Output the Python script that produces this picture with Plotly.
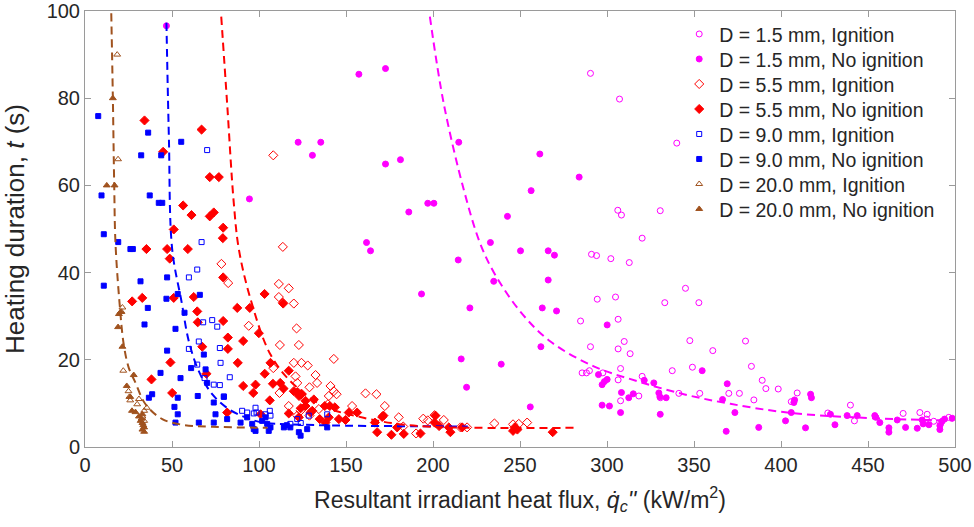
import plotly.graph_objects as go

# ---------------- data ----------------
mag_ign_x = [290.5, 307.2, 340.1, 306.2, 308.3, 330.6, 320.2, 291.1, 294, 302.2, 312.8, 345.1, 333.2, 352.8,
             294.4, 304.9, 284.8, 306.4, 309.9, 290.5, 306.4, 313.3, 347.6, 360.8, 285.7, 288.2, 289.9, 307.8,
             297.6, 306.4, 320.2, 337.5, 349.1, 307.8, 318.3, 330.7, 341.3, 353.3, 370, 376.1, 379.6, 383,
             389.2, 391.3, 398.4, 384.4, 409.3, 405.9, 426.9, 439.9, 442.2, 470.2, 479.8, 484, 483.6, 487.8,
             491.7, 496.4]
mag_ign_y = [85.7, 79.8, 69.7, 54.3, 53.2, 54.2, 47.9, 44.2, 43.9, 43.2, 42.3, 36.4, 33.1, 33.1,
             33.9, 34.4, 28.9, 29.3, 24.2, 23, 22.5, 21.4, 24.4, 22.1, 17, 17, 17.5, 18,
             17, 15.4, 16.2, 17.5, 18.3, 10.6, 11.7, 11.3, 12.3, 12.3, 12.3, 12.3, 24.3, 18.5,
             15.3, 13.4, 13.3, 10.8, 12.4, 10.4, 7.8, 9.6, 6, 7.7, 7.9, 7.5, 6.4, 5.9,
             5.3, 6.8]

mag_no_x = [46.8, 94.5, 157.4, 172.7, 122.5, 135.5, 130.7, 172.7, 181.3, 214.8, 197, 200.5, 186.1, 161.8,
            164.1, 214.5, 193.4, 221.2, 216.2, 219.3, 261.4, 284, 256.4, 242.8, 233, 250.3, 266.2, 269.8,
            234.9, 266.2, 262.8, 271, 300.1, 262, 239.2, 295.1, 300.1, 297.2, 298.5, 321.4, 326.9, 308.3,
            315.1, 312.5, 329.8, 330.4, 334, 297.2, 301.4, 307.8, 330.6, 255.9, 354.7, 369.1, 366.4, 368.5,
            373.5, 387.2, 402.6, 405.9, 407.4, 407.8, 414.1, 417, 417.5, 428.4, 431, 438, 443.8, 453.9,
            454.5, 456.8, 462, 462, 466.8, 471.6, 478.3, 481.1, 481.7, 485, 491.3, 491.3, 492.6, 494, 498.4]
mag_no_y = [96.6, 56.9, 85.5, 86.8, 69.9, 69.9, 66.9, 64.9, 65.9, 69.9, 55.9, 55.9, 53.9, 46.9,
            45, 42.9, 35.1, 31.9, 20.2, 13.7, 67.2, 61.9, 58.8, 52.9, 46.9, 45, 45, 44,
            38, 38.3, 31.9, 31.2, 28, 23, 19, 16.6, 15.5, 14.3, 15, 15.3, 14.7, 12.5,
            12.2, 11.3, 12.4, 11.5, 11.3, 9.6, 9.4, 7.9, 7.5, 9.2, 17.5, 14.5, 10.9, 3.6,
            7.9, 4.5, 6, 7.9, 10.2, 10.8, 4.4, 12.1, 11.3, 7.5, 5.1, 7.2, 7.2, 7.2,
            6.8, 5.6, 4.4, 3.4, 6.2, 4.5, 4.3, 6.2, 5.3, 5.1, 4.9, 4, 5.9, 6.4, 6.6]

red_ign_x = [108.2, 113.7, 78.4, 82.3, 111.4, 117.1, 111.4, 113.7, 94.1, 112, 108.2, 111.8, 117.1,
             120, 121.6, 122.9, 143, 120, 124.4, 128, 121, 132.5, 133.4, 122, 129, 122.5, 124, 141.1,
             143, 144.6, 140.1, 134.4, 139.6, 123.9, 122, 129, 153.5, 161.2, 167.5, 172.3, 180.3, 182.9,
             190.3, 194.4, 197, 200.9, 206.2, 215.8, 219.6, 235.3, 246, 249.3, 254.1]
red_ign_y = [66.9, 45.9, 42, 37.6, 37.4, 36.4, 34.4, 33.1, 27.8, 23.4, 18.1, 12.4, 9.4,
             32.9, 27.2, 23.4, 20.2, 19.3, 19.3, 18.7, 16.2, 16.5, 14.7, 14.7, 13.7, 12.5, 12, 14,
             12.8, 12.1, 11.7, 8.7, 9.8, 8.3, 7.2, 7.2, 9.4, 12.3, 12.1, 9.4, 6.8, 4.7,
             3.1, 6.5, 6.1, 7.3, 6.2, 4.5, 4.5, 5.4, 5.2, 5.3, 5.6]

red_no_x = [34.2, 67, 44.9, 71.7, 76.9, 56.4, 61.2, 71.7, 74, 51, 79.4, 79.2, 35.3, 47.2, 59.1, 48.7,
            79.4, 103.2, 27.1, 32.9, 51, 62.5, 64.5, 64.8, 79.4, 87.5, 94.7, 99.9, 82.1, 90.9, 67.4, 82.1,
            49.1, 106.6, 117.1, 69.8, 38.2, 103.3, 108, 90.9, 98, 112.2, 50.1, 96.7, 106.2, 114.1, 81.7,
            100.9, 113.9, 87.8, 120, 121.8, 123, 124.5, 126.7, 131.5, 117.1, 126.7, 130.6, 122.9, 134.9,
            138.2, 140.1, 140.7, 137.8, 143.6, 149.7, 151.6, 156.4, 166.6, 167.9, 170.8, 171.5, 176.1,
            179.4, 183.2, 192.8, 201.4, 200.9, 203.5, 209.1, 210, 216.8, 246, 247, 248.5, 268.8, 124,
            129.6, 145.9]
red_no_y = [74.9, 72.8, 67.7, 61.9, 61.9, 55.4, 53.2, 52.9, 53.8, 49.9, 50.3, 47.9, 45.4, 45.4, 45.4, 43.2,
            38.9, 35.1, 33.4, 34.2, 34.2, 34.4, 31.1, 28.6, 28.9, 31.9, 31.9, 26.1, 25.1, 24.3, 23, 22.5,
            19.4, 19.3, 17.5, 16.8, 15.5, 16.8, 14.5, 14, 14.3, 14.7, 12.4, 12.4, 10.7, 13.4, 7.9,
            7.5, 32.9, 19.3, 12.8, 12.5, 11.7, 12.2, 10.6, 10.9, 7.7, 9.4, 8.3, 6.8, 6.4,
            5.6, 6.8, 9.4, 9.4, 9.1, 6.2, 7.9, 7.9, 5.6, 3.4, 6.9, 7.2, 2.8,
            4.5, 3, 3.1, 7.2, 5.6, 4.8, 4.5, 3.4, 4.5, 3.7, 4.5, 4, 3.4, 8.9,
            7.9, 6.4]

blue_ign_x = [70.2, 67, 59.7, 64.5, 73.1, 76, 67.9, 65.4, 59.7, 77.5, 77.9, 64.5, 68.7, 83.2, 74, 77.5,
              79.8, 90.3, 93.2, 98, 98.6, 106.2, 106.6, 97, 103.7, 118, 122, 124, 128.6, 139.2]
blue_ign_y = [68.1, 47, 38.9, 40.7, 29.1, 27.6, 28.6, 24.2, 22.5, 22.7, 19.3, 18.9, 15.8, 16, 14.3, 14.2,
              11.6, 8.3, 7.9, 9, 7.9, 8.3, 7.2, 7.7, 7.5, 5.3, 6.4, 5.5, 7.2, 7.5]

blue_no_x = [7.6, 36.3, 55.3, 32.3, 43.8, 9.5, 37.2, 42.4, 44.4, 10.8, 19.1, 26.1, 27.5, 10.8, 31.9, 47.2,
             46.8, 53.3, 66, 36.1, 57.2, 34.2, 52, 47.2, 68.3, 43.4, 61, 69.3, 54.9, 38.6, 36.7, 53.3, 64.8,
             70.2, 74, 79.8, 51.4, 53.3, 52, 65.4, 74, 75, 81.7, 89.4, 93.2, 96.1, 98, 101.8, 104.7, 106.6,
             114.3, 116, 97, 103.7, 105.6, 122.9, 123.9, 127.7, 139.2, 118]
blue_no_y = [75.9, 72.1, 70, 66.9, 66.9, 57.7, 57.7, 56, 56, 48.8, 47, 45.4, 45.4, 37, 38, 38.9,
             34, 35.1, 34.9, 31.9, 30.8, 28.1, 27.1, 22.1, 21.2, 17, 18.1, 17.8, 15.8, 12.1, 11.3, 11.3, 11.7,
             14.7, 10.2, 11.5, 9.2, 7.5, 5.6, 5.6, 5.6, 7.5, 6.4, 5.6, 6.8, 5.3, 3.7, 6, 5.3, 4.5,
             4.5, 5, 4.1, 6.8, 3.7, 3.4, 2.6, 4.1, 4.5, 4.5]

brown_ign_x = [18.5, 19, 21.5, 21, 22, 25, 25.5, 26, 30, 31, 34, 35.5, 33, 34]
brown_ign_y = [90, 66, 32, 31, 17.5, 12.8, 11.5, 10.7, 9.8, 11, 8.3, 9, 7, 6]

brown_no_x = [16, 12.5, 17, 19.5, 20.5, 19, 21.5, 28, 24, 26, 27, 29, 31, 32, 33, 33.5, 34, 33, 34, 32.5, 33]
brown_no_y = [80, 60, 60, 30.5, 31, 27.5, 23, 16.5, 14, 11.5, 8.3, 8, 7, 6, 5.5, 5, 4.5, 4, 3.5, 6.5, 7.5]

# fitted (dashed) curves
fit_brown_x = [15.1, 16.0, 16.8, 17.5, 19.8, 22.3, 25.2, 28.6, 34.8, 44.4, 55.9, 73.1, 104.9]
fit_brown_y = [99.5, 80.3, 59.8, 46.9, 33.3, 23.4, 18.1, 15.1, 9.8, 6.4, 5.1, 4.65, 4.4]
fit_blue_x = [46.8, 48.2, 50.1, 55.5, 59.7, 65.4, 73.1, 82.6, 92.2, 101.8, 118, 150, 220]
fit_blue_y = [97.3, 71.1, 45.4, 33.3, 24.2, 17.4, 12.1, 8.7, 6.8, 5.6, 5.2, 4.9, 4.7]
fit_red_x = [78.3, 81.7, 85.5, 88.4, 95.1, 106.6, 119.8, 137.1, 160.1, 179.6, 198.6, 227.3, 281.9]
fit_red_y = [98.7, 78.7, 56, 45.4, 34, 21.2, 14.4, 9.4, 6.7, 5.3, 4.65, 4.4, 4.4]
fit_mag_x = [198.2, 206.2, 217.7, 226.9, 234.9, 250.3, 267.5, 292.4, 317.4, 344.1, 370.9, 403.6, 441.8, 484, 499]
fit_mag_y = [98.7, 78.7, 59, 46.9, 40.1, 31, 24.2, 18.5, 15.1, 12.1, 9.9, 7.9, 6.8, 6.2, 6.1]

x_ticks = [0, 50, 100, 150, 200, 250, 300, 350, 400, 450, 500]
y_ticks = [0, 20, 40, 60, 80, 100]

# ---------------- styling ----------------
MAG = "#FF00FF"
RED = "#FF0000"
BLUE = "#0000FF"
BROWN = "#A0521E"
FONT = "Liberation Sans, Arial, sans-serif"

W, H = 974, 527
M_L, M_R, M_T, M_B = 85, 19, 11, 80
PLOT_H = H - M_T - M_B

fig = go.Figure()

series = [
    ("D = 1.5 mm, Ignition", mag_ign_x, mag_ign_y, MAG, "circle-open", 6),
    ("D = 1.5 mm, No ignition", mag_no_x, mag_no_y, MAG, "circle", 6),
    ("D = 5.5 mm, Ignition", red_ign_x, red_ign_y, RED, "diamond-open", 7),
    ("D = 5.5 mm, No ignition", red_no_x, red_no_y, RED, "diamond", 7),
    ("D = 9.0 mm, Ignition", blue_ign_x, blue_ign_y, BLUE, "square-open", 5),
    ("D = 9.0 mm, No ignition", blue_no_x, blue_no_y, BLUE, "square", 5),
    ("D = 20.0 mm, Ignition", brown_ign_x, brown_ign_y, BROWN, "triangle-up-open", 6),
    ("D = 20.0 mm, No ignition", brown_no_x, brown_no_y, BROWN, "triangle-up", 6),
]
legend_layouts = {}
for i, (name, xs, ys, col, sym, sz) in enumerate(series):
    key = "legend" if i == 0 else f"legend{i + 1}"
    fig.add_trace(go.Scatter(
        x=xs, y=ys, mode="markers", name=name, legend=key,
        marker=dict(symbol=sym, size=sz, color=col, line=dict(color=col, width=1)),
    ))
    row_px = 34.3 + 25 * i          # row centre, pixels from top of figure
    legend_layouts[key] = dict(
        x=0.683, y=1 - (row_px - M_T) / PLOT_H, xanchor="left", yanchor="middle",
        bgcolor="rgba(255,255,255,0)", borderwidth=0,
        font=dict(family=FONT, size=19.5, color="#262626"),
        itemsizing="trace",
    )

for xs, ys, col in [(fit_brown_x, fit_brown_y, BROWN), (fit_blue_x, fit_blue_y, BLUE),
                    (fit_red_x, fit_red_y, RED), (fit_mag_x, fit_mag_y, MAG)]:
    fig.add_trace(go.Scatter(
        x=xs, y=ys, mode="lines", showlegend=False, hoverinfo="skip",
        line=dict(color=col, width=2, dash="8px,5px", shape="spline", smoothing=1.0),
    ))

axis_common = dict(
    showline=True, linecolor="#9a9a9a", linewidth=1, mirror="ticks",
    ticks="inside", ticklen=6, tickcolor="#9a9a9a", tickwidth=1,
    showgrid=False, zeroline=False, automargin=False,
    ticklabeloverflow="allow",
    tickfont=dict(family=FONT, size=20, color="#262626"),
)

fig.update_xaxes(range=[0, 500], tickvals=x_ticks, **axis_common,
                 title=dict(text="Resultant irradiant heat flux, <i>q\u0307</i><sub><i>c</i></sub><i>''</i> (kW/m<sup>2</sup>)",
                            font=dict(family=FONT, size=23, color="#262626"), standoff=16))
fig.update_yaxes(range=[0, 100], tickvals=y_ticks, **axis_common,
                 title=dict(text="Heating duration, <i>t</i> (s)",
                            font=dict(family=FONT, size=26, color="#262626"), standoff=14))

fig.update_layout(
    width=W, height=H,
    margin=dict(l=M_L, r=M_R, t=M_T, b=M_B),
    paper_bgcolor="white", plot_bgcolor="white",
    showlegend=True,
    **legend_layouts,
)

# the page's default body margin would shift the figure; remove it so the figure fills the window
fig.write_html("out.html", config={"displayModeBar": False},
               post_script="document.body.style.margin='0px';document.body.style.overflow='hidden';")
